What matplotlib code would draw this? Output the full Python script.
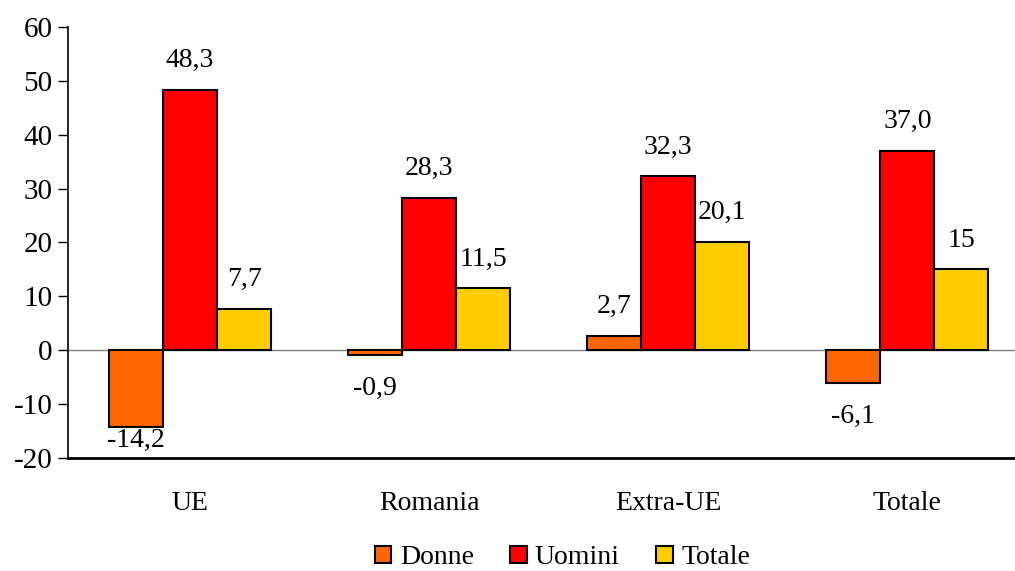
import matplotlib
matplotlib.use('Agg')
import matplotlib.pyplot as plt
import numpy as np

categories = ['UE', 'Romania', 'Extra-UE', 'Totale']
donne = [-14.2, -0.9, 2.7, -6.1]
uomini = [48.3, 28.3, 32.3, 37.0]
totale = [7.7, 11.5, 20.1, 15]
donne_labels = ['-14,2', '-0,9', '2,7', '-6,1']
uomini_labels = ['48,3', '28,3', '32,3', '37,0']
totale_labels = ['7,7', '11,5', '20,1', '15']

plt.rcParams['font.family'] = ['Liberation Serif', 'DejaVu Serif']
plt.rcParams['axes.unicode_minus'] = False

fig = plt.figure(figsize=(10.15, 5.71), dpi=100)
ax = fig.add_axes([0.067, 0.198, 0.933, 0.755])

x = np.arange(len(categories))
w = 0.226
series = [
    (donne, donne_labels, '#FF6600', 'Donne', -w),
    (uomini, uomini_labels, '#FF0000', 'Uomini', 0),
    (totale, totale_labels, '#FFCC00', 'Totale', w),
]
for vals, labs, col, name, off in series:
    ax.bar(x + off, vals, w, color=col, edgecolor='black', linewidth=1.5,
           label=name, zorder=3)
    for xi, v, lab in zip(x + off, vals, labs):
        if v >= 0:
            dy = 21
        elif v < -10:
            dy = -10
        else:
            dy = -24
        ax.annotate(lab, (xi, v), xytext=(0, dy), textcoords='offset points',
                    ha='center', va='center', fontsize=20)

ax.axhline(0, color='#808080', linewidth=1, zorder=2)
ax.set_ylim(-20, 60)
ax.set_yticks(range(-20, 61, 10))
ax.set_xlim(-0.51, 3.45)
ax.set_xticks(x)
ax.set_xticklabels(categories)
ax.tick_params(axis='x', length=0, pad=24, labelsize=20)
ax.tick_params(axis='y', direction='out', length=7, width=1, labelsize=21, pad=4)

for s in ['top', 'right']:
    ax.spines[s].set_visible(False)
ax.spines['left'].set_linewidth(1.2)
ax.spines['bottom'].set_linewidth(2)

ax.legend(loc='center', bbox_to_anchor=(0.522, -0.232), ncol=3,
          frameon=False, fontsize=20, handlelength=0.6, handleheight=0.6,
          handletextpad=0.3, columnspacing=1.3)

fig.savefig('out.png', dpi=100)
